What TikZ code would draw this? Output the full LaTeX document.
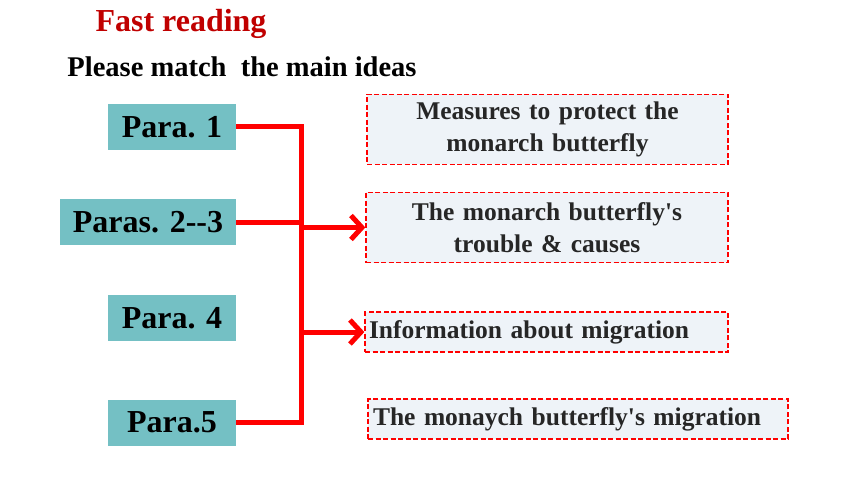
\documentclass[tikz,border=0pt]{standalone}
\usepackage{fontspec}
\setmainfont{Liberation Serif}
\usetikzlibrary{arrows.meta}
\definecolor{titlered}{HTML}{C00000}
\definecolor{teal}{HTML}{74C0C4}
\definecolor{boxfill}{HTML}{EEF3F8}
\definecolor{boxtext}{HTML}{262626}
\tikzset{
  para/.style={fill=teal, minimum height=46pt, inner sep=0pt, font=\fontsize{32}{36}\selectfont\bfseries},
  idea/.style={draw=red, line width=1.3pt, dash pattern=on 5pt off 2.5pt, fill=boxfill, text=boxtext,
    inner sep=0pt, font=\fontsize{25.5}{32}\selectfont\bfseries},
  redline/.style={draw=red, line width=5pt},
  redarrow/.style={redline, -{Straight Barb[length=11pt,width=24pt]}},
}
\begin{document}
\begin{tikzpicture}[x=1pt,y=-1pt]
  \useasboundingbox (0,0) rectangle (860,484);

  \node [text=titlered, font=\fontsize{32}{36}\selectfont\bfseries] (title) at (181,24) {Fast reading};
  \node [font=\fontsize{28.5}{32}\selectfont\bfseries] (task) at (242,67) {Please match~~the main ideas};

  \node [para, minimum width=128pt] (p1) at (172,127) {Para. 1};
  \node [para, minimum width=176pt] (p23) at (148,222) {Paras. 2-{}-3};
  \node [para, minimum width=128pt] (p4) at (172,318) {Para. 4};
  \node [para, minimum width=128pt] (p5) at (172,422.5) {Para.5};

  \node [idea, minimum width=361pt, minimum height=70pt, text width=361pt, align=center] (m1) at (547.5,129.5)
    {Measures to protect the\\monarch butterfly};
  \node [idea, minimum width=362pt, minimum height=70pt, text width=362pt, align=center] (m2) at (547,227.5)
    {The monarch butterfly\textquotesingle s\\trouble \& causes};
  \node [idea, minimum width=363pt, minimum height=40pt, text width=355pt, inner xsep=4pt, align=left] (m3) at (546.5,332)
    {Information about migration};
  \node [idea, minimum width=420pt, minimum height=40pt, text width=410pt, inner xsep=5pt, align=left] (m4) at (578,419)
    {The monaych butterfly\textquotesingle s migration};

  \coordinate (bus) at (301,270);
  \draw [redline] (p1.east) -| (bus) |- (p5.east);
  \draw [redline] (p23.east) -- (p23.east -| bus);
  \draw [redarrow] (bus |- m2.west) -- (m2.west);
  \draw [redarrow] (bus |- m3.west) -- (m3.west);
\end{tikzpicture}
\end{document}
